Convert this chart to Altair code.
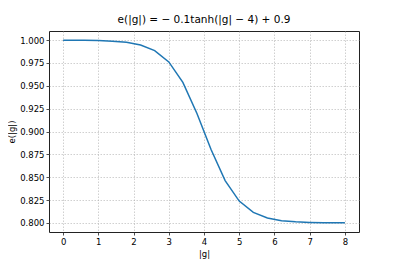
import altair as alt
import pandas as pd

g_vals = [0.0, 0.2, 0.6, 1.0, 1.4, 1.8, 2.2, 2.6, 3.0, 3.4, 3.8, 4.2, 4.6,
          5.0, 5.4, 5.8, 6.2, 6.6, 7.0, 7.4, 7.8, 8.0]
e_vals = [0.99993, 0.99990, 0.99978, 0.99951, 0.99890, 0.99757, 0.99468,
          0.98854, 0.97616, 0.95370, 0.91974, 0.88026, 0.84630, 0.82384,
          0.81146, 0.80532, 0.80243, 0.80110, 0.80049, 0.80022, 0.80010,
          0.80007]
x_ticks = [0, 1, 2, 3, 4, 5, 6, 7, 8]
y_ticks = [0.800, 0.825, 0.850, 0.875, 0.900, 0.925, 0.950, 0.975, 1.000]

df = pd.DataFrame({"g": g_vals, "e": e_vals})

FONT = "DejaVu Sans"

chart = alt.Chart(df).mark_line(color="#1f77b4", strokeWidth=1.5).encode(
    x=alt.X("g:Q", title="|g|",
            scale=alt.Scale(domain=[-0.4, 8.4], nice=False, zero=False),
            axis=alt.Axis(values=x_ticks, format="d")),
    y=alt.Y("e:Q", title="e(|g|)",
            scale=alt.Scale(domain=[0.79, 1.01], nice=False, zero=False),
            axis=alt.Axis(values=y_ticks, format=".3f")),
).properties(
    width=310, height=201,
    title=alt.TitleParams("e(|g|) = − 0.1tanh(|g| − 4) + 0.9",
                          font=FONT, fontSize=10.5, fontWeight="normal",
                          color="black", offset=6),
    autosize=alt.AutoSizeParams(type="none"),
    padding={"left": 41, "top": 23, "right": 30, "bottom": 34},
).configure_view(
    stroke="#222222", strokeWidth=1,
).configure_axis(
    grid=True, gridColor="#b0b0b0", gridDash=[1.5, 1.5], gridWidth=0.6,
    domain=False, tickColor="#222222", tickSize=3, tickWidth=0.8,
    labelFont=FONT, labelFontSize=8.5, labelColor="black", labelPadding=2,
    titleFont=FONT, titleFontSize=8.5, titleFontWeight="normal",
    titleColor="black",
).configure_axisX(
    titlePadding=4,
).configure_axisY(
    titlePadding=3,
)

chart.save("out.html", embed_options={"renderer": "svg", "actions": False})
